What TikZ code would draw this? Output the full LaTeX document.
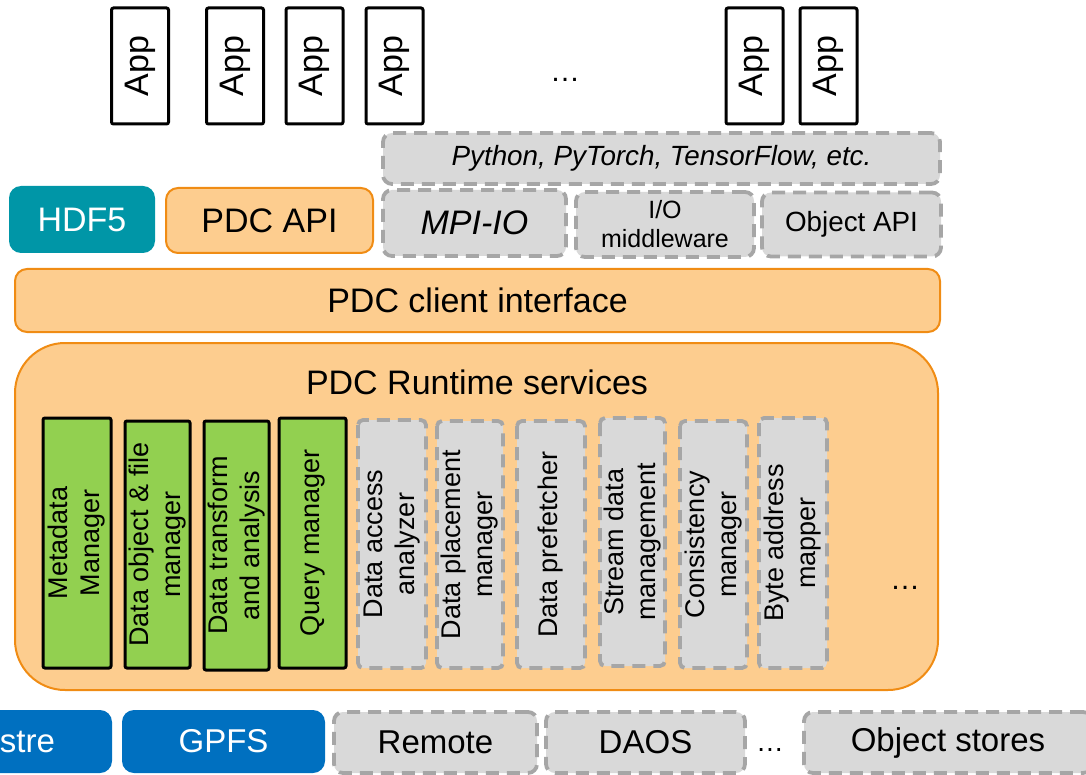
\documentclass[tikz,border=0pt]{standalone}
\usepackage{fontspec}
\setmainfont{Liberation Sans}

\definecolor{orfill}{RGB}{253,205,143}
\definecolor{orline}{RGB}{240,140,20}
\definecolor{hdfteal}{RGB}{0,150,167}
\definecolor{fsblue}{RGB}{0,112,192}
\definecolor{boxgray}{RGB}{217,217,217}
\definecolor{dashgray}{RGB}{166,166,166}
\definecolor{mgrgreen}{RGB}{146,208,80}

\newcommand{\fszBig}{\fontsize{34}{40}\selectfont}
\newcommand{\fszBot}{\fontsize{33}{40}\selectfont}
\newcommand{\fszMid}{\fontsize{27.8}{32}\selectfont}
\newcommand{\fszSmall}{\fontsize{25}{29}\selectfont}
\newcommand{\fszSvc}{\fontsize{27}{32}\selectfont}
\newcommand{\fszDots}{\fontsize{30}{36}\selectfont}

\tikzset{
  every node/.style={inner sep=0pt, outer sep=0pt},
  wh/.style 2 args={minimum width=#1pt, minimum height=#2pt},
  appbox/.style={draw=black, line width=3pt, fill=white, rounded corners=2pt,
    rotate=90, font=\fszBig},
  orbox/.style={draw=orline, fill=orfill, line width=2pt, rounded corners=12pt},
  grbox/.style={draw=dashgray, fill=boxgray, line width=3.8pt,
    dash pattern=on 13pt off 8pt, rounded corners=9pt},
  solidbox/.style={fill=#1, rounded corners=12pt, text=white},
  mgr/.style={draw=black, fill=mgrgreen, line width=3pt, rounded corners=2pt,
    rotate=90, align=center, font=\fszSvc},
  svc/.style={grbox, rounded corners=5pt, rotate=90, align=center, font=\fszSvc},
}

\begin{document}
\begin{tikzpicture}[x=1pt,y=-1pt]
\clip (0,0) rectangle (1086,775);

% applications
\foreach \n/\x in {1/140,2/235,3/314.5,4/394.5,5/754.5,6/828.5}
  \node[appbox, wh={116}{57}] (app\n) at (\x,66) {App};
\node[font=\fszDots] (appdots) at (565,80) {…};

% interfaces and middleware
\node[grbox, wh={557}{51}, font=\fszMid\itshape] (frameworks) at (661.5,158.5)
  {Python, PyTorch, TensorFlow, etc.};
\node[solidbox=hdfteal, wh={146}{67}, font=\fszBig] (hdf5) at (82,219.5) {HDF5};
\node[orbox, wh={207}{65}, font=\fszBig] (pdcapi) at (269.5,220.5) {PDC API};
\node[grbox, wh={183}{66}, font=\fszBig\itshape] (mpiio) at (474.5,223) {MPI-IO};
\node[grbox, wh={178}{65}, font=\fszSmall, align=center] (iomw) at (665,224.5)
  {I/O\\middleware};
\node[grbox, wh={179}{64}, font=\fszMid] (objapi) at (851.5,224.5) {Object API};

% client layer
\node[orbox, wh={925}{63}, font=\fszBig] (client) at (477.5,300.5) {PDC client interface};

% runtime services
\node[orbox, rounded corners=50pt, wh={923}{347}] (runtime) at (476.5,516.5) {};
\node[font=\fszBig, anchor=base] (rtitle) at (477,394) {PDC Runtime services};

\node[mgr, wh={250}{68}] (meta)  at (77,543)     {Metadata\\Manager};
\node[mgr, wh={247}{65}] (dobj)  at (157.5,544.5) {Data object \& file\\manager};
\node[mgr, wh={249}{65}] (dtran) at (236.5,545.5) {Data transform\\and analysis};
\node[mgr, wh={250}{67}] (query) at (312.5,543)   {Query manager};

\node[svc, wh={248}{68}] (access)  at (392,544)    {Data access\\analyzer};
\node[svc, wh={247}{66}] (place)   at (470,544.5)  {Data placement\\manager};
\node[svc, wh={247}{68}] (prefet)  at (551,544.5)  {Data prefetcher};
\node[svc, wh={248}{65}] (stream)  at (632.5,542)  {Stream data\\management};
\node[svc, wh={247}{67}] (consist) at (713.5,544.5) {Consistency\\manager};
\node[svc, wh={250}{68}] (bytemap) at (793,543)    {Byte address\\mapper};
\node[font=\fszDots] (svcdots) at (905,588) {…};

% storage back ends
\node[solidbox=fsblue, wh={206}{63}, font=\fszBot] (lustre) at (9,741.5) {Lustre};
\node[solidbox=fsblue, wh={203}{63}, font=\fszBot] (gpfs) at (223.5,741.5) {GPFS};
\node[grbox, wh={203}{61}, font=\fszBot] (remote) at (435.5,742.5) {Remote};
\node[grbox, wh={199}{61}, font=\fszBot] (daos) at (645.5,742.5) {DAOS};
\node[font=\fszMid] (fsdots) at (770,750) {…};
\node[grbox, wh={288}{61}, font=\fszBot] (objstores) at (948,742.5) {Object stores};
\end{tikzpicture}
\end{document}
